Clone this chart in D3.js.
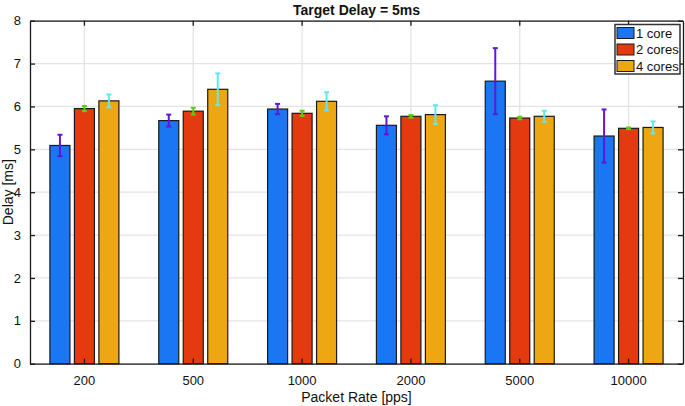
<!DOCTYPE html>
<html><head><meta charset="utf-8">
<script src="https://cdn.jsdelivr.net/npm/d3@7"></script>
<style>body{margin:0;background:#fff}svg{display:block}text{font-family:"Liberation Sans",Arial,sans-serif}</style>
</head><body><svg id="c" width="685" height="406"></svg>
<script>
const categories = ["200","500","1000","2000","5000","10000"];
const seriesNames = ["1 core","2 cores","4 cores"];
const oneCore   = [5.09, 5.67, 5.94, 5.56, 6.59, 5.31];
const twoCores  = [5.95, 5.89, 5.84, 5.77, 5.73, 5.49];
const fourCores = [6.13, 6.40, 6.12, 5.81, 5.77, 5.51];
const oneCoreErr   = [0.25, 0.14, 0.12, 0.21, 0.77, 0.62];
const twoCoresErr  = [0.06, 0.08, 0.06, 0.03, 0.03, 0.02];
const fourCoresErr = [0.15, 0.37, 0.21, 0.22, 0.13, 0.14];
const yTicks = [0,1,2,3,4,5,6,7,8];

const barColors = ["#1a76f3","#e5390f","#eca713"];
const errColors = ["#5f18d4","#5ccf12","#5ee8f7"];
const values = [oneCore, twoCores, fourCores];
const errs = [oneCoreErr, twoCoresErr, fourCoresErr];

const svg = d3.select("#c");
const L=30, R=683, T=20.7, B=363.7;
const x = d3.scaleBand().domain(categories).range([L,R]).padding(0);
const y = d3.scaleLinear().domain([0,8]).range([B,T]);
const bw = x.bandwidth();
const barW = 0.184*bw, off = 0.225*bw;

// grid
const g = svg.append("g");
g.selectAll(".gy").data(yTicks).enter().append("line")
 .attr("x1",L).attr("x2",R).attr("y1",d=>y(d)).attr("y2",d=>y(d))
 .attr("stroke","#e4e4e4").attr("stroke-width",1.3);
g.selectAll(".gx").data(categories).enter().append("line")
 .attr("x1",d=>x(d)+bw/2).attr("x2",d=>x(d)+bw/2).attr("y1",T).attr("y2",B)
 .attr("stroke","#e4e4e4").attr("stroke-width",1.3);

// bars
values.forEach((vals,s)=>{
  const cx = i => x(categories[i])+bw/2+(s-1)*off;
  svg.append("g").selectAll("rect").data(vals).enter().append("rect")
    .attr("x",(d,i)=>cx(i)-barW/2).attr("width",barW)
    .attr("y",d=>y(d)).attr("height",d=>y(0)-y(d))
    .attr("fill",barColors[s]).attr("stroke","#1a1a1a").attr("stroke-width",1.2);
  const eg = svg.append("g").attr("stroke",errColors[s]).attr("stroke-width",2);
  vals.forEach((d,i)=>{
    const e = errs[s][i], c = cx(i);
    eg.append("line").attr("x1",c).attr("x2",c).attr("y1",y(d+e)).attr("y2",y(d-e));
    eg.append("line").attr("x1",c-2.5).attr("x2",c+2.5).attr("y1",y(d+e)).attr("y2",y(d+e));
    eg.append("line").attr("x1",c-2.5).attr("x2",c+2.5).attr("y1",y(d-e)).attr("y2",y(d-e));
  });
});

// axes
const ax = svg.append("g").attr("transform",`translate(0,${B})`)
  .call(d3.axisBottom(x).tickSizeInner(-5).tickSizeOuter(0).tickPadding(12));
const ay = svg.append("g").attr("transform",`translate(${L},0)`)
  .call(d3.axisLeft(y).tickValues(yTicks).tickFormat(d3.format("d")).tickSizeInner(-5).tickSizeOuter(0).tickPadding(9));
const at = svg.append("g").attr("transform",`translate(0,${T})`)
  .call(d3.axisTop(x).tickSizeInner(-5).tickSizeOuter(0).tickFormat(""));
const ar = svg.append("g").attr("transform",`translate(${R},0)`)
  .call(d3.axisRight(y).tickValues(yTicks).tickSizeInner(-5).tickSizeOuter(0).tickFormat(""));
[ax,ay,at,ar].forEach(a=>{
  a.select(".domain").attr("stroke","#1a1a1a").attr("stroke-width",1.3);
  a.selectAll(".tick line").attr("stroke","#1a1a1a").attr("stroke-width",1.3);
  a.selectAll("text").attr("font-size",13).attr("fill","#111").style("font-family","'Liberation Sans',Arial,sans-serif");
});

// titles
svg.append("text").attr("x",(L+R)/2).attr("y",15).attr("text-anchor","middle")
  .attr("font-size",14).attr("font-weight","bold").attr("fill","#111").text("Target Delay = 5ms");
svg.append("text").attr("x",(L+R)/2).attr("y",402).attr("text-anchor","middle")
  .attr("font-size",14).attr("fill","#111").text("Packet Rate [pps]");
svg.append("text").attr("transform",`translate(13,${(T+B)/2}) rotate(-90)`).attr("text-anchor","middle")
  .attr("font-size",14).attr("fill","#111").text("Delay [ms]");

// legend
const lg = svg.append("g");
lg.append("rect").attr("x",615).attr("y",24.5).attr("width",65).attr("height",49.5)
  .attr("fill","#fff").attr("stroke","#333").attr("stroke-width",1.5);
seriesNames.forEach((n,i)=>{
  const cy = 33 + i*16.5;
  lg.append("rect").attr("x",617).attr("y",cy-5.5).attr("width",17).attr("height",11)
    .attr("fill",barColors[i]).attr("stroke","#1a1a1a").attr("stroke-width",1);
  lg.append("text").attr("x",636).attr("y",cy+4.5).attr("font-size",13).attr("fill","#111").text(n);
});
</script></body></html>
